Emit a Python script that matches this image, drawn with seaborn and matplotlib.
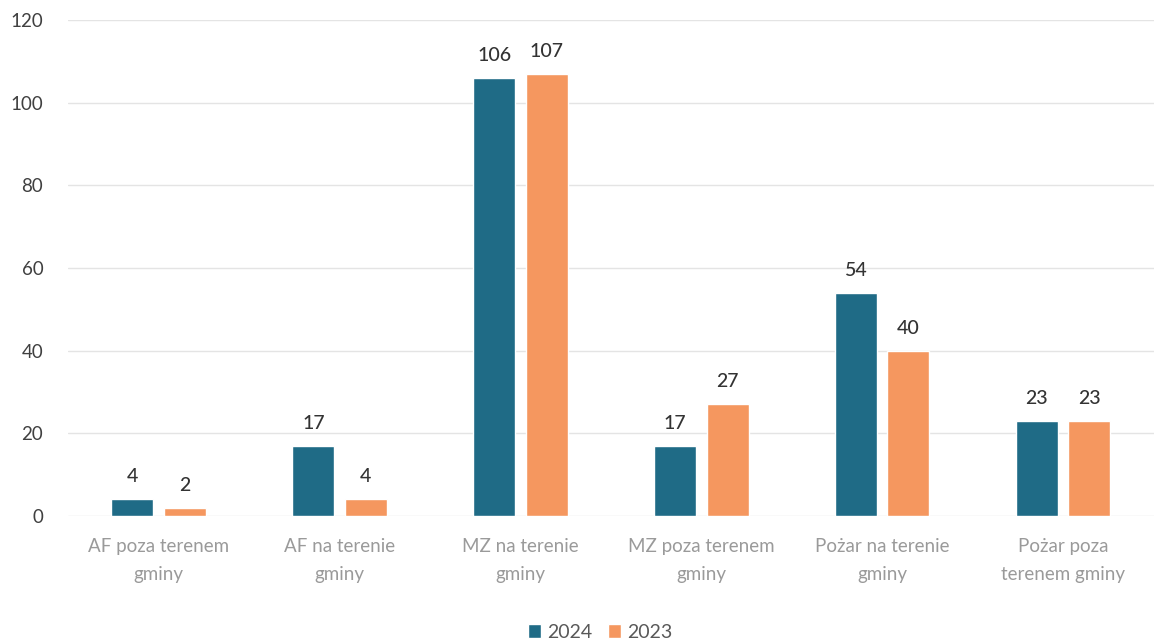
import pandas as pd
import matplotlib.pyplot as plt
import seaborn as sns

categories = ["AF poza terenem\ngminy", "AF na terenie\ngminy", "MZ na terenie\ngminy",
              "MZ poza terenem\ngminy", "Pożar na terenie\ngminy", "Pożar poza\nterenem gminy"]
years = ["2024", "2023"]
values_2024 = [4, 17, 106, 17, 54, 23]
values_2023 = [2, 4, 107, 27, 40, 23]
colors = ["#1f6b86", "#f5975f"]

df = pd.DataFrame({
    "kategoria": categories * 2,
    "rok": [years[0]] * len(categories) + [years[1]] * len(categories),
    "liczba": values_2024 + values_2023,
})

sns.set_theme(style="white")
plt.rcParams['font.family'] = ['Lato', 'DejaVu Sans']

fig = plt.figure(figsize=(11.57, 6.44), dpi=100)
ax = fig.add_axes([0.059, 0.199, 0.938, 0.77])

sns.barplot(data=df, x="kategoria", y="liczba", hue="rok", order=categories,
            hue_order=years, palette=colors, width=0.58, gap=0.2,
            saturation=1, ax=ax)

for container in ax.containers:
    ax.bar_label(container, fmt='%d', padding=10, fontsize=14, color="#333333",
                 fontweight="medium")

ax.set_ylim(0, 120)
ax.set_yticks(range(0, 121, 20))
ax.grid(axis="y", color="#e4e4e4", linewidth=1)
ax.set_axisbelow(True)
sns.despine(ax=ax, left=True, bottom=True, top=True, right=True)
ax.set_xlabel("")
ax.set_ylabel("")
ax.tick_params(axis="y", labelsize=13.5, labelcolor="#404040", pad=18, length=0)
ax.tick_params(axis="x", labelsize=13.5, labelcolor="#9a9a9a", pad=16, length=0)
for lbl in ax.get_xticklabels():
    lbl.set_linespacing(1.75)

ax.legend(loc="center", bbox_to_anchor=(0.49, -0.235), ncol=2, frameon=False,
          fontsize=14, labelcolor="#595959", handlelength=0.7, handleheight=0.7,
          handletextpad=0.3, columnspacing=0.8)

fig.savefig("out.png", dpi=100)
